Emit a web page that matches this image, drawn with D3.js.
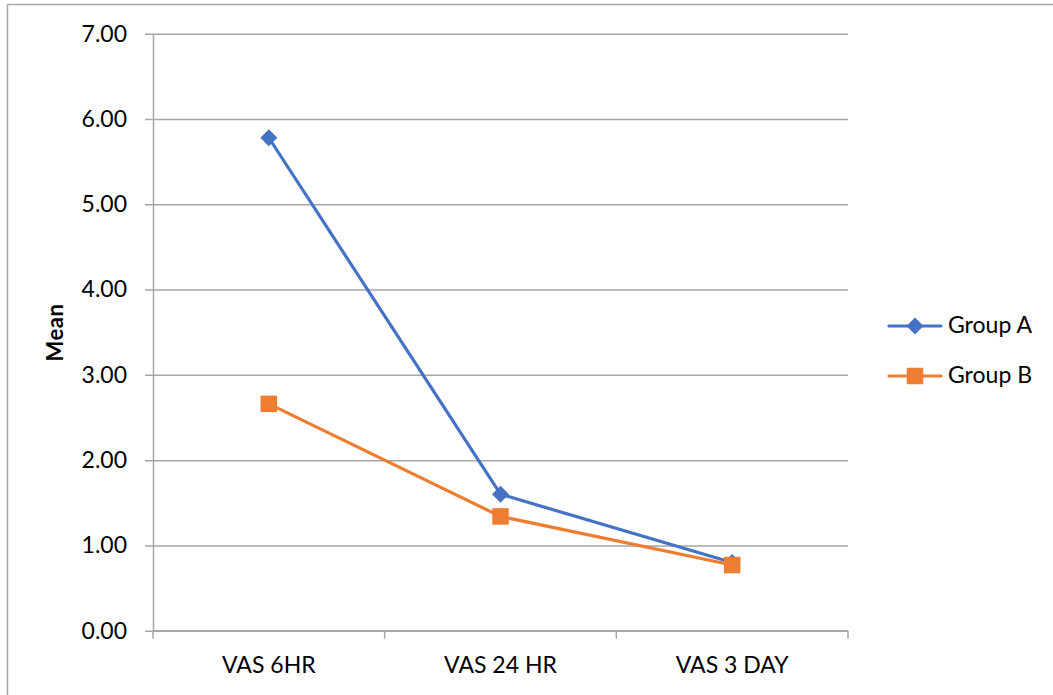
<!DOCTYPE html>
<html>
<head>
<meta charset="utf-8">
<script src="https://cdnjs.cloudflare.com/ajax/libs/d3/7.8.5/d3.min.js"></script>
<style>
  html, body { margin: 0; padding: 0; background: #fff; }
  svg { display: block; font-family: "Lato", "Open Sans", sans-serif; }
</style>
</head>
<body>
<svg id="chart" width="1053" height="695"></svg>
<script>
// Category labels along the x axis
const categories = ["VAS 6HR", "VAS 24 HR", "VAS 3 DAY"];
// Mean VAS score per group
const groupA = [5.78, 1.60, 0.80];
const groupB = [2.66, 1.34, 0.77];
// Y axis tick values
const yTicks = [0, 1, 2, 3, 4, 5, 6, 7];
const seriesNames = ["Group A", "Group B"];

const svg = d3.select("#chart");
const W = 1053, H = 695;
const plot = { left: 153, right: 848, top: 33.7, bottom: 630.7 };
const FONT = 23;

// Outer frame (left and top edges)
svg.append("path")
  .attr("d", `M7.5,${H} V4.5 H${W}`)
  .attr("fill", "none")
  .attr("stroke", "#a6a6a6")
  .attr("stroke-width", 1.5);

const x = d3.scaleBand().domain(categories).range([plot.left, plot.right]).padding(0);
const y = d3.scaleLinear().domain([0, 7]).range([plot.bottom, plot.top]);

// Horizontal gridlines with left tick marks
const yAxis = d3.axisLeft(y).tickValues(yTicks).tickFormat(d3.format(".2f"))
  .tickSize(-(plot.right - plot.left)).tickSizeOuter(0).tickPadding(26);
const gy = svg.append("g").attr("transform", `translate(${plot.left},0)`).call(yAxis);
gy.attr("font-family", null).attr("font-size", null);
gy.select(".domain").attr("stroke", "#a6a6a6").attr("stroke-width", 1.5);
gy.selectAll(".tick line").attr("stroke", "#a6a6a6").attr("stroke-width", 1.5)
  .attr("x1", -8);
gy.selectAll(".tick text").attr("font-size", FONT).attr("fill", "#000");

// Category axis with tick marks at band boundaries
const gx = svg.append("g").attr("transform", `translate(0,${plot.bottom})`);
gx.append("line").attr("x1", plot.left).attr("x2", plot.right)
  .attr("stroke", "#a6a6a6").attr("stroke-width", 1.5);
const bounds = categories.map(c => x(c)).concat([x(categories[categories.length - 1]) + x.bandwidth()]);
gx.selectAll("line.tk").data(bounds).join("line").attr("class", "tk")
  .attr("x1", d => d).attr("x2", d => d).attr("y1", 0).attr("y2", 8)
  .attr("stroke", "#a6a6a6").attr("stroke-width", 1.5);
gx.selectAll("text").data(categories).join("text")
  .attr("x", d => x(d) + x.bandwidth() / 2).attr("y", 42)
  .attr("text-anchor", "middle").attr("font-size", FONT).attr("fill", "#000")
  .text(d => d);

// Y axis title
svg.append("text")
  .attr("transform", `translate(63,332.5) rotate(-90)`)
  .attr("text-anchor", "middle").attr("font-size", 22).attr("font-weight", "bold")
  .attr("letter-spacing", 0.5)
  .text("Mean");

const cx = c => x(c) + x.bandwidth() / 2;
const series = [
  { name: seriesNames[0], values: groupA, color: "#4472C4", shape: "diamond" },
  { name: seriesNames[1], values: groupB, color: "#ED7D31", shape: "square" }
];
const line = d3.line().x((d, i) => cx(categories[i])).y(d => y(d));

function drawMarker(g, shape, color, px, py) {
  if (shape === "diamond") {
    const r = 8.5;
    g.append("path").attr("d", `M${px},${py - r} L${px + r},${py} L${px},${py + r} L${px - r},${py} Z`)
      .attr("fill", color);
  } else {
    const s = 16.5;
    g.append("rect").attr("x", px - s / 2).attr("y", py - s / 2).attr("width", s).attr("height", s)
      .attr("fill", color);
  }
}

series.forEach(s => {
  const g = svg.append("g");
  g.append("path").datum(s.values).attr("d", line)
    .attr("fill", "none").attr("stroke", s.color).attr("stroke-width", 3.2)
    .attr("stroke-linejoin", "round");
  s.values.forEach((v, i) => drawMarker(g, s.shape, s.color, cx(categories[i]), y(v)));
});

// Legend
const legendY = [326, 376];
series.forEach((s, i) => {
  const g = svg.append("g");
  g.append("line").attr("x1", 889).attr("x2", 941).attr("y1", legendY[i]).attr("y2", legendY[i])
    .attr("stroke", s.color).attr("stroke-width", 3.2).attr("stroke-linecap", "round");
  drawMarker(g, s.shape, s.color, 915, legendY[i]);
  g.append("text").attr("x", 948).attr("y", legendY[i] + 7).attr("font-size", FONT)
    .attr("fill", "#000").text(s.name);
});
</script>
</body>
</html>
